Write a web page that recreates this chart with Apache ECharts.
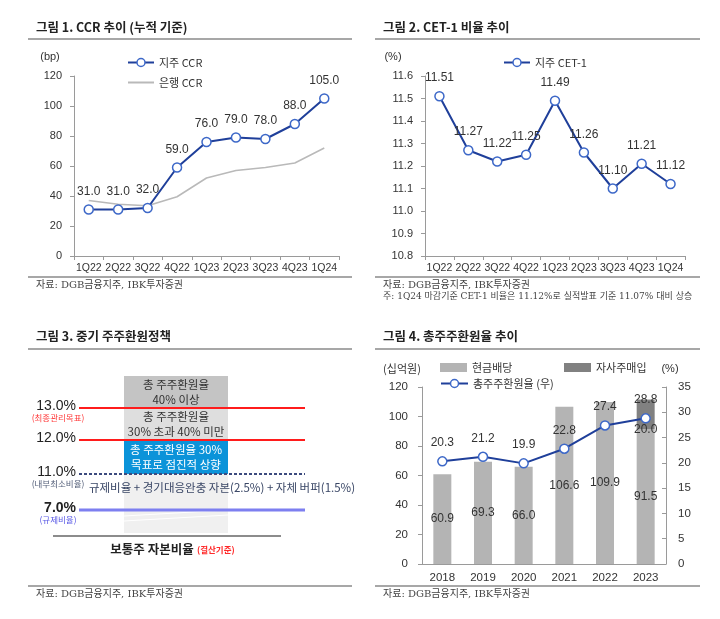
<!DOCTYPE html>
<html><head><meta charset="utf-8">
<script src="https://cdn.jsdelivr.net/npm/echarts@6/dist/echarts.min.js"></script>
<style>html,body{margin:0;padding:0;background:#fff}#c{width:720px;height:619px}</style>
</head><body><div id="c"></div>
<script>
// ---- data ----
const quarters = ['1Q22','2Q22','3Q22','4Q22','1Q23','2Q23','3Q23','4Q23','1Q24'];
const holdingCCR = [31.0, 31.0, 32.0, 59.0, 76.0, 79.0, 78.0, 88.0, 105.0];
const bankCCR = [37, 34.5, 33.5, 39.5, 52, 57, 59, 62, 72];
const cet1 = [11.51, 11.27, 11.22, 11.25, 11.49, 11.26, 11.10, 11.21, 11.12];
const years = ['2018','2019','2020','2021','2022','2023'];
const cashDividend = [60.9, 69.3, 66.0, 106.6, 109.9, 91.5];
const buyback = ['-', '-', '-', '-', '-', 20.0];
const payoutRatio = [20.3, 21.2, 19.9, 22.8, 27.4, 28.8];
const policyLevels = ['13.0%', '12.0%', '11.0%', '7.0%'];
const policyNotes = ['(최종관리목표)', '', '(내부최소비율)', '(규제비율)'];
const policyBoxes = ['총 주주환원율\n40% 이상', '총 주주환원율\n30% 초과 40% 미만', '총 주주환원율 30%\n목표로 점진적 상향'];
const titles = ['그림 1. CCR 추이 (누적 기준)', '그림 2. CET-1 비율 추이', '그림 3. 중기 주주환원정책', '그림 4. 총주주환원율 추이'];
const sourceText = '자료: DGB금융지주, IBK투자증권';
const note2 = '주: 1Q24 마감기준 CET-1 비율은 11.12%로 실적발표 기준 11.07% 대비 상승';

const FONT = '"Liberation Sans", Arial, "Noto Sans CJK KR", sans-serif';
const KFONT = '"Noto Sans CJK KR", "Liberation Sans", sans-serif';
const SERIF = '"DejaVu Serif", "Liberation Serif", "Noto Sans CJK KR", serif';
const DARK = '#1f3f9a';
const MARK = '#3d68c8';

const chart = echarts.init(document.getElementById('c'), null, {renderer: 'canvas'});

function txt(text, x, y, opts) {
  opts = opts || {};
  return {type: 'text', x: x, y: y, z: 100, silent: true, style: Object.assign({
    text: text, fill: '#333', font: '11px ' + FONT, align: 'left', verticalAlign: 'middle'
  }, opts)};
}
function line(x1, y1, x2, y2, stroke, w, dash) {
  return {type: 'line', silent: true, z: 50, shape: {x1, y1, x2, y2},
    style: {stroke: stroke, lineWidth: w, lineDash: dash || null}};
}
function rect(x, y, w, h, fill, z) {
  return {type: 'rect', silent: true, z: z || 10, shape: {x, y, width: w, height: h}, style: {fill: fill}};
}

const g = [];
// titles and rules
g.push(txt(titles[0], 36, 27, {font: 'bold 12.5px ' + KFONT, fill: '#222'}));
g.push(txt(titles[1], 383, 27, {font: 'bold 12.5px ' + KFONT, fill: '#222'}));
g.push(txt(titles[2], 36, 336, {font: 'bold 12.5px ' + KFONT, fill: '#222'}));
g.push(txt(titles[3], 383, 336, {font: 'bold 12.5px ' + KFONT, fill: '#222'}));
g.push(line(28, 39, 352, 39, '#8a8a8a', 1.5));
g.push(line(375, 39, 700, 39, '#8a8a8a', 1.5));
g.push(line(28, 349, 352, 349, '#8a8a8a', 1.5));
g.push(line(375, 349, 700, 349, '#8a8a8a', 1.5));
g.push(line(28, 277, 352, 277, '#8a8a8a', 1.5));
g.push(line(375, 277, 700, 277, '#8a8a8a', 1.5));
g.push(line(28, 586, 352, 586, '#8a8a8a', 1.5));
g.push(line(375, 586, 700, 586, '#8a8a8a', 1.5));
g.push(txt(sourceText, 36, 285, {font: '10px ' + SERIF, fill: '#444'}));
g.push(txt(sourceText, 383, 285, {font: '10px ' + SERIF, fill: '#444'}));
g.push(txt(note2, 383, 297, {font: '9px ' + SERIF, fill: '#444'}));
g.push(txt(sourceText, 36, 594, {font: '10px ' + SERIF, fill: '#444'}));
g.push(txt(sourceText, 383, 594, {font: '10px ' + SERIF, fill: '#444'}));
// axis units
g.push(txt('(bp)', 50, 57, {align: 'center', font: '11px ' + FONT}));
g.push(txt('(%)', 393, 57, {align: 'center', font: '11px ' + FONT}));
g.push(txt('(십억원)', 402, 369, {align: 'center', font: '11px ' + KFONT}));
g.push(txt('(%)', 670, 369, {align: 'center', font: '11px ' + FONT}));

// ---- panel 3 diagram ----
const colX = 124, colW = 104;
g.push(rect(colX, 376, colW, 32, '#c4c4c4'));
g.push(rect(colX, 408, colW, 32, '#dedede'));
g.push(rect(colX, 440, colW, 34, '#0b93d9'));
g.push(rect(colX, 474, colW, 59, '#f0f0f0'));
g.push(line(colX, 516, colX + colW, 510, '#ffffff', 1));
g.push(line(colX, 521, colX + colW, 515, '#ffffff', 1));
g.push(txt(policyBoxes[0], colX + colW / 2, 392, {align: 'center', font: '11.5px ' + KFONT, fill: '#333', lineHeight: 15}));
g.push(txt(policyBoxes[1], colX + colW / 2, 424, {align: 'center', font: '11.5px ' + KFONT, fill: '#333', lineHeight: 15}));
g.push(txt(policyBoxes[2], colX + colW / 2, 457, {align: 'center', font: '11.5px ' + KFONT, fill: '#ffffff', lineHeight: 15}));
const lvlY = [408, 440, 474, 510];
const lvlColor = ['#ff1c1c', '#ff1c1c', '#3c4a7e', '#7d7ff0'];
const noteColor = ['#ff3b3b', '', '#55607a', '#5a5ae6'];
for (let i = 0; i < policyLevels.length; i++) {
  if (i === 2) g.push(line(79, lvlY[i], 305, lvlY[i], lvlColor[i], 2, [3, 2]));
  else g.push(line(79, lvlY[i], 305, lvlY[i], lvlColor[i], i === 3 ? 3 : 2));
  g.push(txt(policyLevels[i], 76, lvlY[i] - 2, {align: 'right', font: (i === 3 ? 'bold ' : '') + '14px ' + FONT, fill: '#222'}));
  if (policyNotes[i]) g.push(txt(policyNotes[i], 58, lvlY[i] + 10, {align: 'center', font: '8.5px ' + KFONT, fill: noteColor[i]}));
}
g.push(txt('규제비율 + 경기대응완충 자본(2.5%) + 자체 버퍼(1.5%)', 222, 488, {align: 'center', font: '11.5px ' + KFONT, fill: '#3a4766'}));
g.push(line(53, 536, 281, 536, '#8c8c8c', 2));
g.push(txt('보통주 자본비율', 152, 549, {align: 'center', font: 'bold 12.5px ' + KFONT, fill: '#222'}));
g.push(txt('(결산기준)', 197, 550, {align: 'left', font: 'bold 8.5px ' + KFONT, fill: '#ff2a2a'}));

const axisLabel = {color: '#333', fontSize: 11, fontFamily: FONT};
const axisLine = {show: true, lineStyle: {color: '#9a9a9a', width: 1}};
const axisTick = {show: true, length: 4, lineStyle: {color: '#9a9a9a'}};
const lineLabel = (d) => ({show: true, position: 'top', distance: 7, color: '#333', fontSize: 12, fontFamily: FONT,
  formatter: p => Number(p.value).toFixed(d)});
const markerStyle = {color: '#ffffff', borderColor: MARK, borderWidth: 1.5};
const legendMarker = {color: '#ffffff', borderColor: MARK, borderWidth: 1.5};

const option = {
  animation: false,
  backgroundColor: '#ffffff',
  textStyle: {fontFamily: FONT},
  grid: [
    {left: 74, top: 76, width: 265, height: 180},
    {left: 425, top: 76, width: 260, height: 180},
    {left: 422, top: 387, width: 244, height: 177}
  ],
  xAxis: [
    {type: 'category', gridIndex: 0, data: quarters, axisLine, axisTick, axisLabel: Object.assign({margin: 7, interval: 0}, axisLabel, {fontSize: 10.5})},
    {type: 'category', gridIndex: 1, data: quarters, axisLine, axisTick, axisLabel: Object.assign({margin: 7, interval: 0}, axisLabel, {fontSize: 10.5})},
    {type: 'category', gridIndex: 2, data: years, axisLine, axisTick: {show: false}, axisLabel: Object.assign({margin: 8, interval: 0}, axisLabel, {fontSize: 11.5})}
  ],
  yAxis: [
    {type: 'value', gridIndex: 0, min: 0, max: 120, interval: 20, axisLine, axisTick, splitLine: {show: false},
      axisLabel: Object.assign({margin: 12}, axisLabel)},
    {type: 'value', gridIndex: 1, min: 10.8, max: 11.6, interval: 0.1, axisLine, axisTick, splitLine: {show: false},
      axisLabel: Object.assign({margin: 12, formatter: v => v.toFixed(1)}, axisLabel)},
    {type: 'value', gridIndex: 2, min: 0, max: 120, interval: 20, axisLine, axisTick, splitLine: {show: false},
      axisLabel: Object.assign({margin: 14}, axisLabel, {fontSize: 11.5})},
    {type: 'value', gridIndex: 2, position: 'right', min: 0, max: 35, interval: 5, axisLine,
      axisTick: {show: true, inside: true, length: 4, lineStyle: {color: '#9a9a9a'}}, splitLine: {show: false},
      axisLabel: Object.assign({margin: 12}, axisLabel, {fontSize: 11.5})}
  ],
  legend: [
    {orient: 'vertical', left: 122, top: 52, itemWidth: 26, itemHeight: 10, itemGap: 9,
      textStyle: {color: '#333', fontSize: 11, fontFamily: KFONT},
      data: [{name: '지주 CCR', itemStyle: legendMarker}, {name: '은행 CCR', itemStyle: {opacity: 0}}]},
    {orient: 'horizontal', left: 498, top: 52, itemWidth: 26, itemHeight: 10,
      textStyle: {color: '#333', fontSize: 11, fontFamily: KFONT}, data: [{name: '지주 CET-1', itemStyle: legendMarker}]},
    {left: 435, top: 357, itemWidth: 27, itemHeight: 9, textStyle: {color: '#333', fontSize: 11, fontFamily: KFONT},
      data: [{name: '현금배당', icon: 'rect'}]},
    {left: 559, top: 357, itemWidth: 27, itemHeight: 9, textStyle: {color: '#333', fontSize: 11, fontFamily: KFONT},
      data: [{name: '자사주매입', icon: 'rect'}]},
    {left: 435, top: 373, itemWidth: 27, itemHeight: 10, textStyle: {color: '#333', fontSize: 11, fontFamily: KFONT},
      data: [{name: '총주주환원율 (우)', itemStyle: legendMarker}]}
  ],
  series: [
    {name: '은행 CCR', type: 'line', xAxisIndex: 0, yAxisIndex: 0, data: bankCCR, symbol: 'none',
      lineStyle: {color: '#b9b9b9', width: 1.5}, itemStyle: {color: '#b9b9b9'}, z: 2},
    {name: '지주 CCR', type: 'line', xAxisIndex: 0, yAxisIndex: 0, data: holdingCCR, symbol: 'circle', symbolSize: 9,
      lineStyle: {color: DARK, width: 2}, itemStyle: markerStyle, label: lineLabel(1), z: 3},
    {name: '지주 CET-1', type: 'line', xAxisIndex: 1, yAxisIndex: 1, data: cet1, symbol: 'circle', symbolSize: 9,
      lineStyle: {color: DARK, width: 2}, itemStyle: markerStyle, label: lineLabel(2), z: 3},
    {name: '현금배당', type: 'bar', xAxisIndex: 2, yAxisIndex: 2, stack: 'ret', data: cashDividend, barWidth: 18,
      itemStyle: {color: '#b4b4b4'},
      label: {show: true, position: 'inside', color: '#333', fontSize: 12, fontFamily: FONT, formatter: p => p.value.toFixed(1)}},
    {name: '자사주매입', type: 'bar', xAxisIndex: 2, yAxisIndex: 2, stack: 'ret', data: buyback, barWidth: 18,
      itemStyle: {color: '#818181'},
      label: {show: true, position: 'insideBottom', offset: [0, 12], color: '#333', fontSize: 12, fontFamily: FONT,
        formatter: p => Number(p.value).toFixed(1)}},
    {name: '총주주환원율 (우)', type: 'line', xAxisIndex: 2, yAxisIndex: 3, data: payoutRatio, symbol: 'circle', symbolSize: 9,
      lineStyle: {color: DARK, width: 2}, itemStyle: markerStyle, label: lineLabel(1), z: 5}
  ],
  graphic: g
};
chart.setOption(option);
</script>
</body></html>
